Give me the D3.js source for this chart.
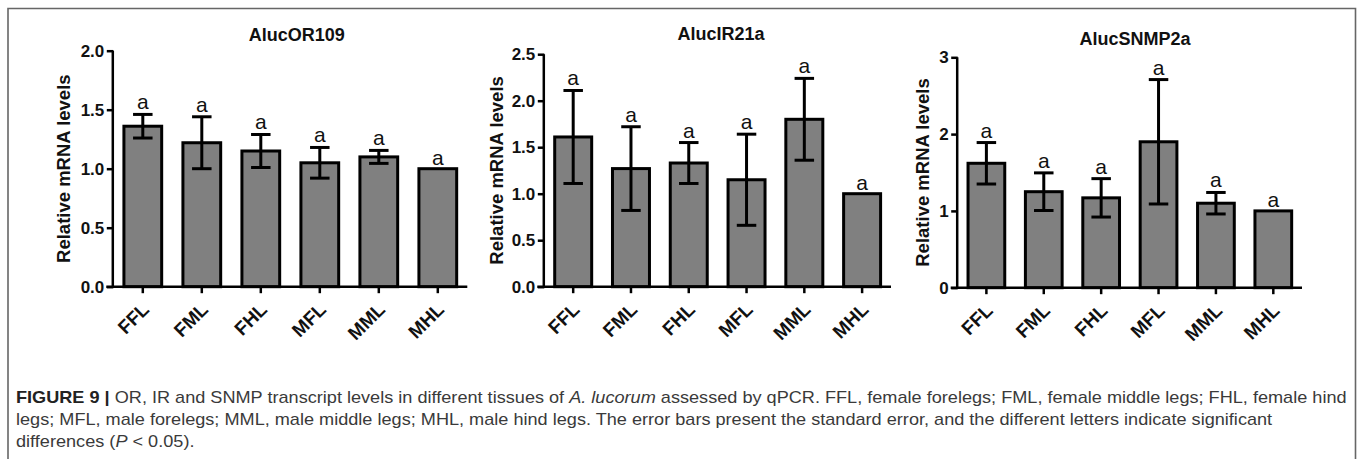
<!DOCTYPE html>
<html>
<head>
<meta charset="utf-8">
<script src="https://cdn.jsdelivr.net/npm/d3@7"></script>
<style>
  html, body { margin: 0; padding: 0; background: #fff; }
  svg { display: block; }
</style>
</head>
<body>
<svg id="chart" width="1358" height="459"></svg>
<script>
// ---------- DATA ----------
const categories = ["FFL", "FML", "FHL", "MFL", "MML", "MHL"];

const or109Means  = [1.36, 1.22, 1.15, 1.05, 1.10, 1.00];
const or109Errors = [0.10, 0.22, 0.14, 0.13, 0.055, 0];
const or109Letters = ["a", "a", "a", "a", "a", "a"];
const or109Ticks  = [0, 0.5, 1.0, 1.5, 2.0];

const ir21aMeans  = [1.61, 1.27, 1.33, 1.15, 1.80, 1.00];
const ir21aErrors = [0.50, 0.45, 0.22, 0.49, 0.44, 0];
const ir21aLetters = ["a", "a", "a", "a", "a", "a"];
const ir21aTicks  = [0, 0.5, 1.0, 1.5, 2.0, 2.5];

const snmp2aMeans  = [1.62, 1.25, 1.17, 1.90, 1.10, 1.00];
const snmp2aErrors = [0.27, 0.245, 0.25, 0.81, 0.14, 0];
const snmp2aLetters = ["a", "a", "a", "a", "a", "a"];
const snmp2aTicks  = [0, 1, 2, 3];

const panelTitles = ["AlucOR109", "AlucIR21a", "AlucSNMP2a"];
const yAxisTitle = "Relative mRNA levels";

// ---------- LAYOUT ----------
const svg = d3.select("#chart");
const FONT = "'Liberation Sans', Arial, Helvetica, sans-serif";

// outer frame (top, left, right; bottom runs off the picture)
svg.append("path")
  .attr("d", "M8,470 L8,8.5 L1355.5,8.5 L1355.5,470")
  .attr("fill", "none").attr("stroke", "#666").attr("stroke-width", 1.6);

const panels = [
  { title: panelTitles[0], means: or109Means, errors: or109Errors, letters: or109Letters, ticks: or109Ticks,
    fmt: d3.format(".1f"), x0: 113.3, x1: 467.3, yTop: 50.7, yBot: 286.7,
    titleX: 296.7, titleY: 40.7, yTitleX: 70 },
  { title: panelTitles[1], means: ir21aMeans, errors: ir21aErrors, letters: ir21aLetters, ticks: ir21aTicks,
    fmt: d3.format(".1f"), x0: 544.3, x1: 891, yTop: 54.2, yBot: 286.7,
    titleX: 721, titleY: 40, yTitleX: 503 },
  { title: panelTitles[2], means: snmp2aMeans, errors: snmp2aErrors, letters: snmp2aLetters, ticks: snmp2aTicks,
    fmt: d3.format("d"), x0: 957.7, x1: 1302, yTop: 57.3, yBot: 287.7,
    titleX: 1135, titleY: 44.5, yTitleX: 929 }
];

panels.forEach(p => {
  const g = svg.append("g");
  const yMax = p.ticks[p.ticks.length - 1];
  const x = d3.scaleBand().domain(categories).range([p.x0, p.x1]).paddingInner(0.36).paddingOuter(0.18);
  const y = d3.scaleLinear().domain([0, yMax]).range([p.yBot, p.yTop]);

  // bars
  g.selectAll("rect.bar").data(p.means).enter().append("rect")
    .attr("class", "bar")
    .attr("x", (d, i) => x(categories[i]))
    .attr("width", x.bandwidth())
    .attr("y", d => y(d))
    .attr("height", d => y(0) - y(d))
    .attr("fill", "#808080")
    .attr("stroke", "#000")
    .attr("stroke-width", 3);

  // error bars
  const capW = 19.5;
  p.means.forEach((m, i) => {
    const e = p.errors[i];
    if (!e) return;
    const cx = x(categories[i]) + x.bandwidth() / 2;
    g.append("line").attr("x1", cx).attr("x2", cx).attr("y1", y(m + e)).attr("y2", y(m - e))
      .attr("stroke", "#000").attr("stroke-width", 3);
    [m + e, m - e].forEach(v => {
      g.append("line").attr("x1", cx - capW / 2).attr("x2", cx + capW / 2).attr("y1", y(v)).attr("y2", y(v))
        .attr("stroke", "#000").attr("stroke-width", 3);
    });
  });

  // significance letters
  g.selectAll("text.letter").data(p.means).enter().append("text")
    .attr("class", "letter")
    .attr("x", (d, i) => x(categories[i]) + x.bandwidth() / 2)
    .attr("y", (d, i) => y(d + p.errors[i]) - (p.errors[i] ? 5 : 4))
    .attr("text-anchor", "middle")
    .attr("font-family", FONT).attr("font-size", 21).attr("fill", "#111")
    .text((d, i) => p.letters[i]);

  // y axis
  const yAxis = d3.axisLeft(y).tickValues(p.ticks).tickFormat(p.fmt).tickSize(6.5).tickPadding(2.5);
  const ya = g.append("g").attr("transform", `translate(${p.x0},0)`).call(yAxis);
  ya.select(".domain").attr("d", `M-0.5,${p.yTop}V${p.yBot}`).attr("stroke-width", 2.5).attr("stroke", "#000");
  ya.selectAll(".tick line").attr("stroke-width", 2.5).attr("stroke", "#000");
  ya.selectAll(".tick text").attr("font-family", FONT).attr("font-size", 17).attr("font-weight", "bold").attr("fill", "#111");

  // x axis
  const xAxis = d3.axisBottom(x).tickSize(6.5).tickSizeOuter(0);
  const xa = g.append("g").attr("transform", `translate(0,${p.yBot})`).call(xAxis);
  xa.select(".domain").attr("d", `M${p.x0 - 7},0H${p.x1}`).attr("stroke-width", 2.5).attr("stroke", "#000");
  xa.selectAll(".tick line").attr("stroke-width", 2.5).attr("stroke", "#000");
  xa.selectAll(".tick text")
    .attr("font-family", FONT).attr("font-size", 19).attr("font-weight", "bold").attr("fill", "#111")
    .attr("text-anchor", "end")
    .attr("dy", null)
    .attr("y", 0)
    .attr("transform", "translate(7.5,24) rotate(-45)");

  // title
  g.append("text").attr("x", p.titleX).attr("y", p.titleY).attr("text-anchor", "middle")
    .attr("font-family", FONT).attr("font-size", 18).attr("font-weight", "bold").attr("fill", "#111")
    .text(p.title);

  // y-axis title
  g.append("text")
    .attr("transform", `translate(${p.yTitleX},${(p.yTop + p.yBot) / 2}) rotate(-90)`)
    .attr("text-anchor", "middle")
    .attr("font-family", FONT).attr("font-size", 18.5).attr("font-weight", "bold").attr("fill", "#111")
    .text(yAxisTitle);
});

// ---------- CAPTION ----------
const captionLines = [
  { y: 403.3, parts: [
      { t: "FIGURE 9 | ", b: true },
      { t: "OR, IR and SNMP transcript levels in different tissues of " },
      { t: "A. lucorum", i: true },
      { t: " assessed by qPCR. FFL, female forelegs; FML, female middle legs; FHL, female hind" } ] },
  { y: 425, parts: [
      { t: "legs; MFL, male forelegs; MML, male middle legs; MHL, male hind legs. The error bars present the standard error, and the different letters indicate significant" } ] },
  { y: 446.7, parts: [
      { t: "differences (" }, { t: "P", i: true }, { t: " < 0.05)." } ] }
];
const capTexts = captionLines.map(line => {
  const t = svg.append("text").attr("x", 0).attr("y", 0)
    .attr("font-family", FONT).attr("font-size", 17).attr("fill", "#3a3a3a");
  line.parts.forEach(pt => {
    t.append("tspan").text(pt.t)
      .attr("font-weight", pt.b ? "bold" : null)
      .attr("font-style", pt.i ? "italic" : null)
      .attr("fill", pt.b ? "#222" : null);
  });
  return t;
});
// line 2 ends at x≈1273 in the reference; use the same horizontal scale for all lines
const s = (1273 - 16) / capTexts[1].node().getComputedTextLength();
capTexts.forEach((t, i) => {
  t.attr("transform", `translate(16,${captionLines[i].y}) scale(${s},1)`);
});
</script>
</body>
</html>
